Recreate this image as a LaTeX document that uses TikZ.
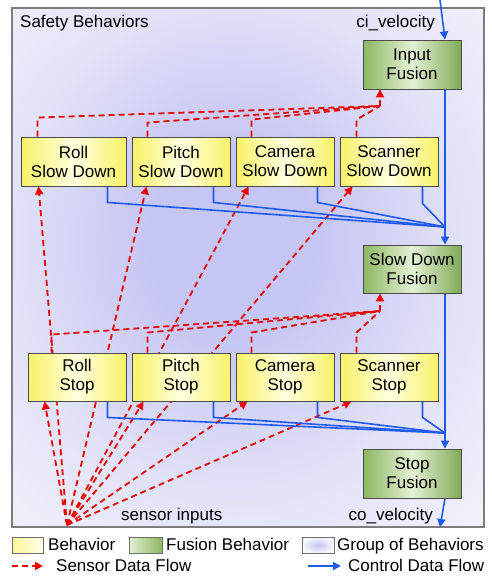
\documentclass[tikz,border=0pt]{standalone}
\usepackage{fontspec}
\setmainfont{Liberation Sans}
\usetikzlibrary{arrows.meta,calc}

\definecolor{grpIn}{RGB}{198,198,244}
\definecolor{grpMid}{RGB}{226,226,248}
\definecolor{grpPale}{RGB}{241,241,251}
\definecolor{grpOut}{RGB}{247,247,252}
\definecolor{grpEdge}{RGB}{125,125,125}
\definecolor{ylw}{RGB}{248,242,105}
\definecolor{ylwLight}{RGB}{255,255,222}
\definecolor{grn}{RGB}{140,182,98}
\definecolor{grnDark}{RGB}{128,170,88}
\definecolor{grnLight}{RGB}{228,240,212}
\definecolor{bdr}{RGB}{75,75,75}
\definecolor{redflow}{RGB}{235,0,0}
\definecolor{blueflow}{RGB}{30,90,235}

% soft blue glow filling the group box
\pgfdeclareradialshading{groupglow}{\pgfpoint{-2bp}{3bp}}{%
  color(0bp)=(grpIn); color(9bp)=(grpIn); color(24bp)=(grpMid);
  color(36bp)=(grpPale); color(50bp)=(grpOut); color(75bp)=(grpOut)}

\newcommand\lblfont{\fontsize{17}{19}\selectfont}

\pgfdeclarelayer{back}
\pgfdeclarelayer{flows}
\pgfsetlayers{back,flows,main}

\tikzset{
  behav/.style={draw=bdr, line width=0.9pt, left color=ylw, right color=ylw,
    middle color=ylwLight, minimum width=98pt, minimum height=49pt,
    inner sep=0pt, align=center, font=\lblfont},
  fusion/.style={behav, left color=grn, right color=grnDark, middle color=grnLight},
  lbl/.style={inner sep=0pt, font=\lblfont},
  swatch/.style={draw=bdr!80, line width=0.8pt, minimum height=16pt, inner sep=0pt},
  sensor/.style={draw=redflow, line width=1.8pt, dash pattern=on 6pt off 4pt},
  sensorarrow/.style={sensor, -{Triangle[length=8pt,width=8pt]}},
  control/.style={draw=blueflow, line width=1.6pt},
  ctrlarrow/.style={control, -{Triangle[length=8pt,width=8pt]}},
}

\begin{document}
\begin{tikzpicture}[x=1pt, y=-1pt]
\useasboundingbox (0,0) rectangle (491,576);

% group of safety behaviors
\begin{pgfonlayer}{back}
  \shade[shading=groupglow] (12,8) rectangle (484,527);
  \draw[grpEdge, line width=1.3pt] (12,8) rectangle (484,527);
\end{pgfonlayer}

\node[lbl, anchor=base west] (title) at (20,27) {Safety Behaviors};
\node[lbl, anchor=base east] (ci) at (435,27) {ci\_velocity};
\node[lbl, anchor=base west] (sens) at (121,520) {sensor inputs};
\node[lbl, anchor=base east] (co) at (433,520) {co\_velocity};

% fusion behaviors
\node[fusion] (inF) at (412,64.5) {Input\\Fusion};
\node[fusion, minimum height=48pt] (sdF) at (412,269) {Slow Down\\Fusion};
\node[fusion] (stF) at (412,473.5) {Stop\\Fusion};

% slow down behaviors
\node[behav, minimum width=105pt] (rsd) at (73.5,161.5) {Roll\\Slow Down};
\node[behav] (psd) at (181,161.5) {Pitch\\Slow Down};
\node[behav] (csd) at (285,161.5) {Camera\\Slow Down};
\node[behav] (ssd) at (389,161.5) {Scanner\\Slow Down};

% stop behaviors
\node[behav, minimum height=48pt] (rst) at (77,377) {Roll\\Stop};
\node[behav, minimum height=48pt] (pst) at (181,377) {Pitch\\Stop};
\node[behav, minimum height=48pt] (cst) at (285,377) {Camera\\Stop};
\node[behav, minimum height=48pt] (sst) at (389,377) {Scanner\\Stop};

\coordinate (src) at (67,525);
\coordinate (ciIn) at (440,0);
\coordinate (coOut) at (440,527);
\coordinate (j1) at (445,227);
\coordinate (j2) at (445,433);
\coordinate (c1) at (380,106);
\coordinate (c2) at (380,311);

\begin{pgfonlayer}{flows}
  % sensor inputs
  \draw[sensorarrow] (src) -- ([xshift=18pt]rsd.south west);
  \draw[sensorarrow] (src) -- ([xshift=15pt]psd.south west);
  \draw[sensorarrow] (src) -- ([xshift=13pt]csd.south west);
  \draw[sensorarrow] (src) -- ([xshift=13pt]ssd.south west);
  \draw[sensorarrow] (src) -- ([xshift=17pt]rst.south west);
  \draw[sensorarrow] (src) -- ([xshift=12pt]pst.south west);
  \draw[sensorarrow] (src) -- ([xshift=12pt]cst.south west);
  \draw[sensorarrow] (src) -- ([xshift=12pt]sst.south west);

  % slow down behaviors feed the input fusion
  \draw[sensor] ([xshift=17pt]rsd.north west) -- ++(0,-19) -- (c1);
  \draw[sensor] ([xshift=16pt]psd.north west) -- ++(0,-14) -- (c1);
  \draw[sensor] ([xshift=16pt]csd.north west) -- ++(0,-17) -- (c1);
  \draw[sensor] ([xshift=17pt]ssd.north west) -- ++(0,-17) -- (c1);
  \draw[sensorarrow] (c1) -- (inF.south -| c1);

  % stop behaviors feed the slow down fusion
  \draw[sensor] ([xshift=24pt]rst.north west) -- ++(0,-18) -- (c2);
  \draw[sensor] ([xshift=16pt]pst.north west) -- ++(0,-20) -- (c2);
  \draw[sensor] ([xshift=16pt]cst.north west) -- ++(0,-20) -- (c2);
  \draw[sensor] ([xshift=17pt]sst.north west) -- ++(0,-20) -- (c2);
  \draw[sensorarrow] (c2) -- (sdF.south -| c2);

  % control data flow
  \draw[ctrlarrow] (ciIn) -- (inF.north -| j1);
  \draw[control] (inF.south -| j1) -- (j1);
  \draw[control] ([xshift=-19pt]rsd.south east) -- ++(0,16) -- (j1);
  \draw[control] ([xshift=-17pt]psd.south east) -- ++(0,16) -- (j1);
  \draw[control] ([xshift=-17pt]csd.south east) -- ++(0,16) -- (j1);
  \draw[control] ([xshift=-16pt]ssd.south east) -- ++(0,17) -- (j1);
  \draw[ctrlarrow] (j1) -- (sdF.north -| j1);

  \draw[control] (sdF.south -| j2) -- (j2);
  \draw[control] ([xshift=-19pt]rst.south east) -- ++(0,16) -- (j2);
  \draw[control] ([xshift=-17pt]pst.south east) -- ++(0,16) -- (j2);
  \draw[control] ([xshift=-17pt]cst.south east) -- ++(0,16) -- (j2);
  \draw[control] ([xshift=-16pt]sst.south east) -- ++(0,16) -- (j2);
  \draw[ctrlarrow] (j2) -- (stF.north -| j2);
  \draw[ctrlarrow] (stF.south -| j2) -- (coOut);
\end{pgfonlayer}

% legend
\node[swatch, minimum width=31pt, left color=ylw!70!white, right color=ylwLight!60!white] (lgB) at (27.5,545) {};
\node[lbl, anchor=base west] (lgBt) at (48,550) {Behavior};
\node[swatch, minimum width=33pt, left color=grnLight, right color=grn] (lgF) at (145.5,545) {};
\node[lbl, anchor=base west] (lgFt) at (166,550) {Fusion Behavior};
\node[swatch, minimum width=32pt, inner color=grpIn, outer color=grpOut] (lgG) at (318,545) {};
\node[lbl, anchor=base west] (lgGt) at (337,550) {Group of Behaviors};

\coordinate (lsA) at (12,566);
\coordinate (lsB) at (43,566);
\draw[sensorarrow] (lsA) -- (lsB);
\node[lbl, anchor=base west] (lgS) at (56,571) {Sensor Data Flow};
\coordinate (lcA) at (308,566);
\coordinate (lcB) at (341,566);
\draw[ctrlarrow] (lcA) -- (lcB);
\node[lbl, anchor=base west] (lgC) at (348,571) {Control Data Flow};
\end{tikzpicture}
\end{document}
